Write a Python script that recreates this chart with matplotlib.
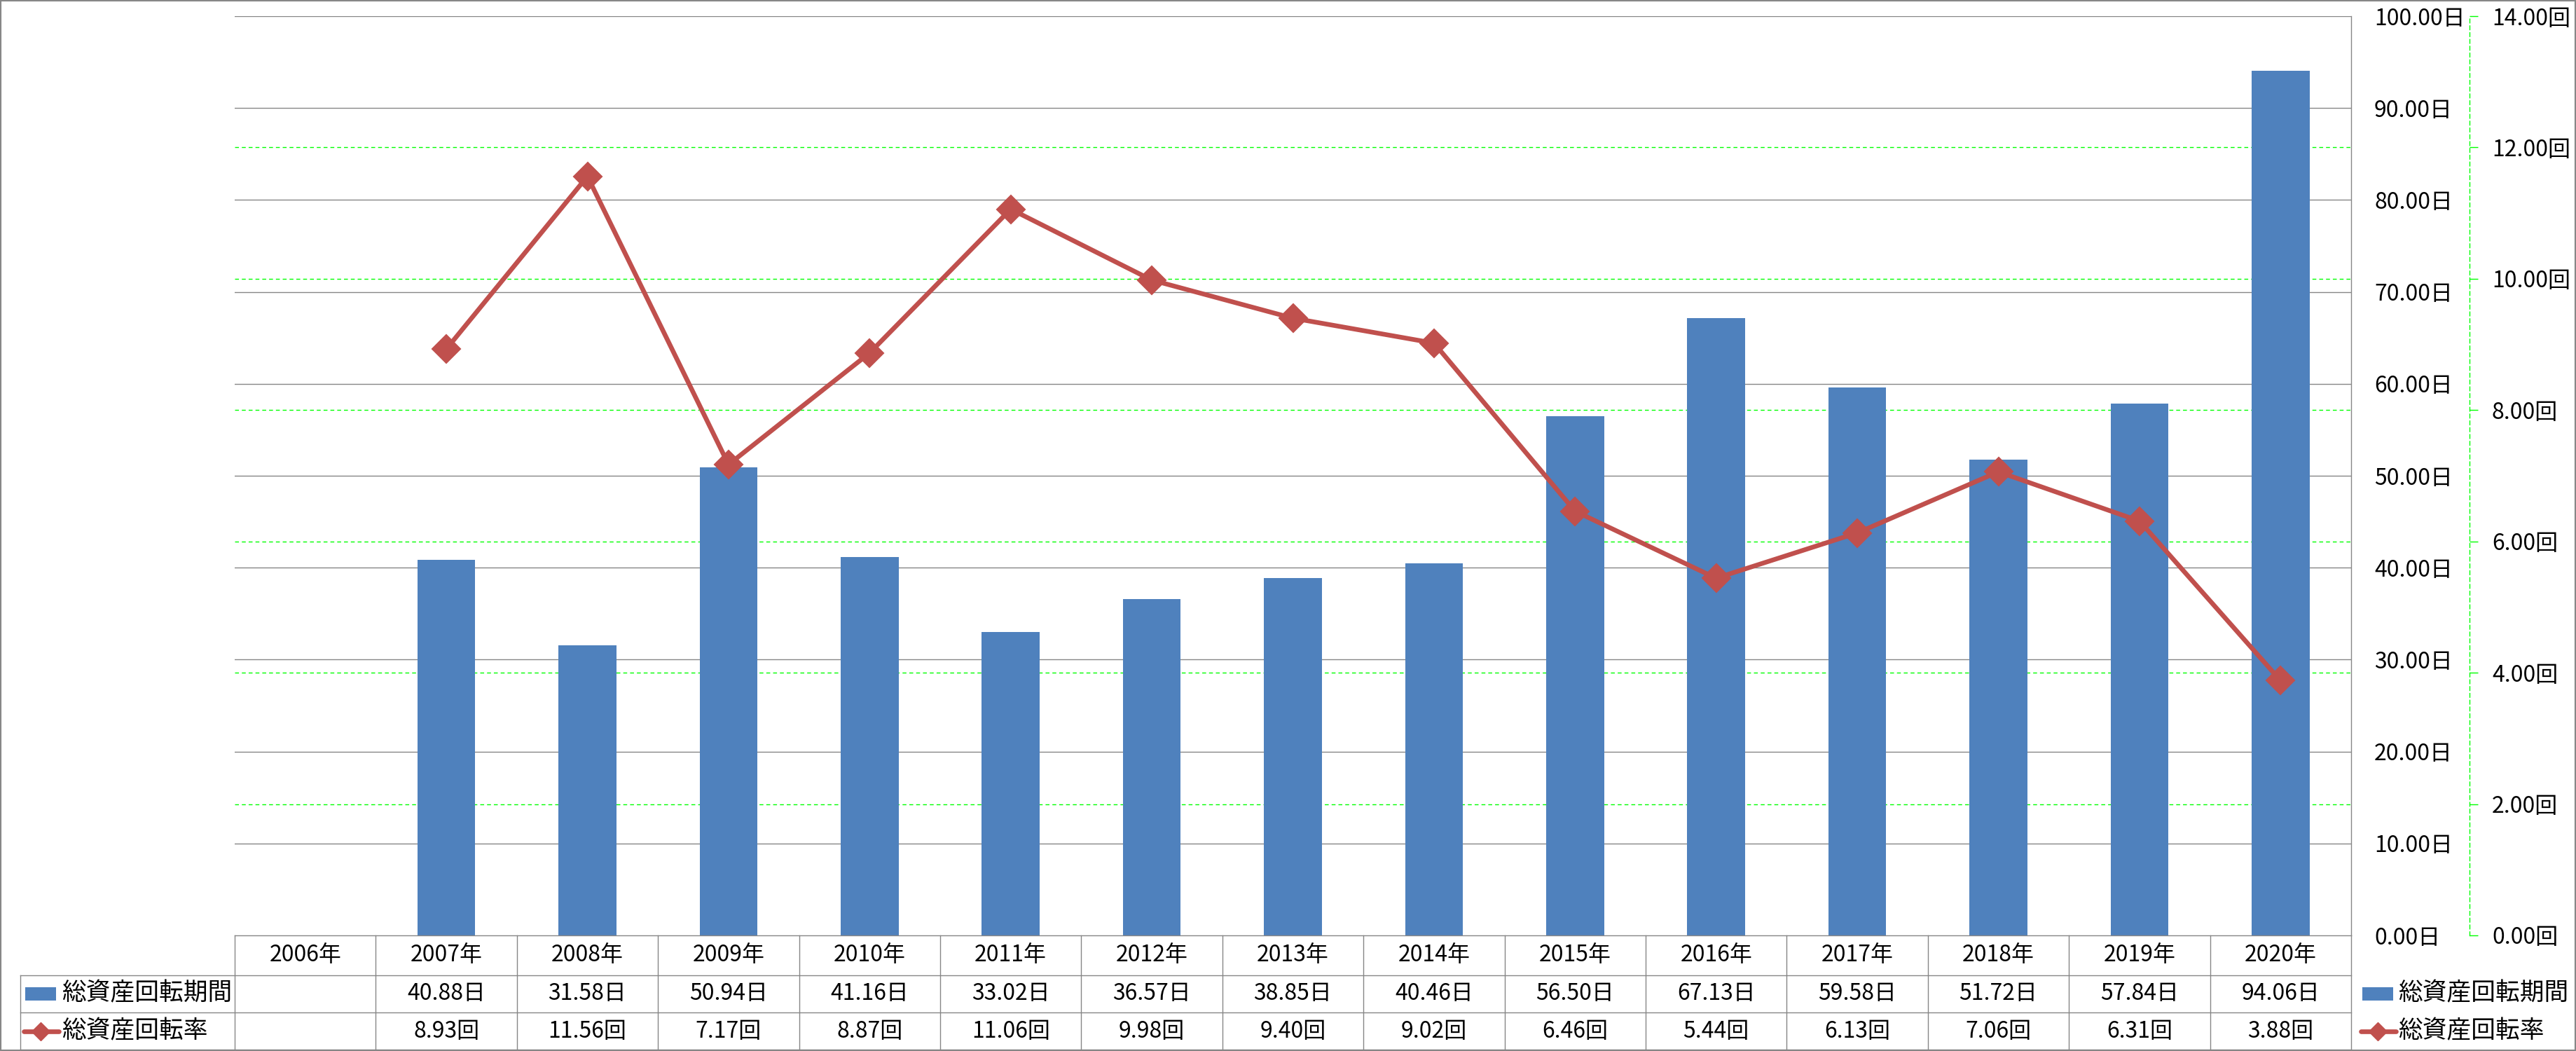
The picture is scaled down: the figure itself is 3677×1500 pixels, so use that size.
import numpy as np
import matplotlib
matplotlib.use('Agg')
import matplotlib.pyplot as plt
from matplotlib.transforms import blended_transform_factory
from matplotlib.lines import Line2D
from matplotlib.patches import Rectangle

plt.rcParams['font.family'] = ['Noto Sans CJK JP', 'DejaVu Sans']

# ---------------- data ----------------
years = ['2006年', '2007年', '2008年', '2009年', '2010年', '2011年', '2012年',
         '2013年', '2014年', '2015年', '2016年', '2017年', '2018年', '2019年', '2020年']
period_days = [np.nan, 40.88, 31.58, 50.94, 41.16, 33.02, 36.57, 38.85,
               40.46, 56.50, 67.13, 59.58, 51.72, 57.84, 94.06]
turnover = [np.nan, 8.93, 11.56, 7.17, 8.87, 11.06, 9.98, 9.40,
            9.02, 6.46, 5.44, 6.13, 7.06, 6.31, 3.88]
series_names = ['総資産回転期間', '総資産回転率']
day_ticks = list(range(0, 101, 10))
rate_ticks = list(range(0, 15, 2))

# ---------------- style ----------------
BAR_C = '#4F81BD'
LINE_C = '#C0504D'
GRID_C = '#868686'
GREEN = '#00FF00'
FS = 23

W, H = 3677, 1500
fig = plt.figure(figsize=(W / 100, H / 100), dpi=100)


def fx(px):
    return px / W


def fy(py):
    return 1 - py / H


L, R, T, B = 335, 3356, 23, 1335
ax = fig.add_axes([fx(L), fy(B), fx(R) - fx(L), fy(T) - fy(B)])
x = np.arange(len(years))
ax.bar(x, period_days, width=0.41, color=BAR_C, zorder=3)
ax.set_xlim(-0.5, len(years) - 0.5)
ax.set_ylim(0, 100)

ax2 = ax.twinx()
ax2.set_ylim(0, 14)
ax2.set_xlim(-0.5, len(years) - 0.5)

ax.set_yticks(day_ticks)
ax.set_yticklabels([f'{v:.2f}日' for v in day_ticks])
ax.yaxis.tick_right()
ax.tick_params(axis='y', length=0, pad=23.8, labelsize=FS,
               left=False, labelleft=False, right=True, labelright=True)
ax.set_xticks([])
for s in ['left', 'top', 'bottom']:
    ax.spines[s].set_visible(False)
ax.spines['right'].set_color(GRID_C)
ax.spines['right'].set_linewidth(1.0)
for v in day_ticks[1:]:
    ax.axhline(v, color=GRID_C, lw=1.0, zorder=1)

ax2.plot(x, turnover, color=LINE_C, lw=4.8, marker='D', ms=20,
         mfc=LINE_C, mec=LINE_C, mew=1.5, solid_joinstyle='round', zorder=5)
for s in ['left', 'top', 'bottom']:
    ax2.spines[s].set_visible(False)
ax2.spines['right'].set_position(('axes', (3525 - L) / (R - L)))
ax2.spines['right'].set_color(GREEN)
ax2.spines['right'].set_linestyle((0, (4, 3)))
ax2.spines['right'].set_linewidth(1.0)
ax2.set_yticks(rate_ticks)
ax2.set_yticklabels([f'{v:.2f}回' for v in rate_ticks])
ax2.tick_params(axis='y', length=8.6, width=1, color=GREEN, pad=14.4,
                labelsize=FS, direction='out')

# secondary gridlines (behind bars), drawn on primary axes
gtrans = blended_transform_factory(ax.transAxes, ax2.transData)
for v in rate_ticks[1:-1]:
    ax.add_line(Line2D([0, 1], [v, v], transform=gtrans, color=GREEN,
                       lw=1.0, linestyle=(0, (4, 3)), zorder=1))

# ---------------- data table ----------------
ctrans = blended_transform_factory(ax.transData, fig.transFigure)
row_y = [1363, 1418, 1472]
LEFT_T = 29
lines_kw = dict(color=GRID_C, lw=1.0)
fig.add_artist(Line2D([fx(L), fx(R)], [fy(B), fy(B)], transform=fig.transFigure, **lines_kw))
for py in [1392, 1445, 1498]:
    fig.add_artist(Line2D([fx(LEFT_T), fx(R)], [fy(py), fy(py)], transform=fig.transFigure, **lines_kw))
for i in range(len(years) + 1):
    xb = i - 0.5
    fig.add_artist(Line2D([xb, xb], [fy(B), fy(1498)], transform=ctrans, **lines_kw))
fig.add_artist(Line2D([fx(LEFT_T), fx(LEFT_T)], [fy(1392), fy(1498)], transform=fig.transFigure, **lines_kw))

for i, yl in enumerate(years):
    fig.text(i, fy(row_y[0]), yl, transform=ctrans, ha='center', va='center', fontsize=FS)
    if not np.isnan(period_days[i]):
        fig.text(i, fy(row_y[1]), f'{period_days[i]:.2f}日', transform=ctrans,
                 ha='center', va='center', fontsize=FS)
    if not np.isnan(turnover[i]):
        fig.text(i, fy(row_y[2]), f'{turnover[i]:.2f}回', transform=ctrans,
                 ha='center', va='center', fontsize=FS)


def legend_keys(x0, xtext):
    fig.add_artist(Rectangle((fx(x0), fy(1428)), fx(44), 19 / H, transform=fig.transFigure,
                             facecolor=BAR_C, edgecolor='none'))
    fig.text(fx(xtext), fy(row_y[1]), series_names[0], ha='left', va='center', fontsize=25)
    fig.add_artist(Line2D([fx(x0 - 2), fx(x0 + 48)], [fy(row_y[2])] * 2, transform=fig.transFigure,
                          color=LINE_C, lw=4.8, solid_capstyle='round'))
    fig.add_artist(Line2D([fx(x0 + 22)], [fy(row_y[2])], transform=fig.transFigure,
                          marker='D', ms=13, color=LINE_C, mec=LINE_C, lw=0))
    fig.text(fx(xtext), fy(row_y[2]), series_names[1], ha='left', va='center', fontsize=25)


legend_keys(36, 88)
legend_keys(3372, 3423)

fig.add_artist(Rectangle((0, 0), 1, 1, transform=fig.transFigure, fill=False,
                         edgecolor='#878787', lw=3))

fig.savefig('out.png', dpi=100)
